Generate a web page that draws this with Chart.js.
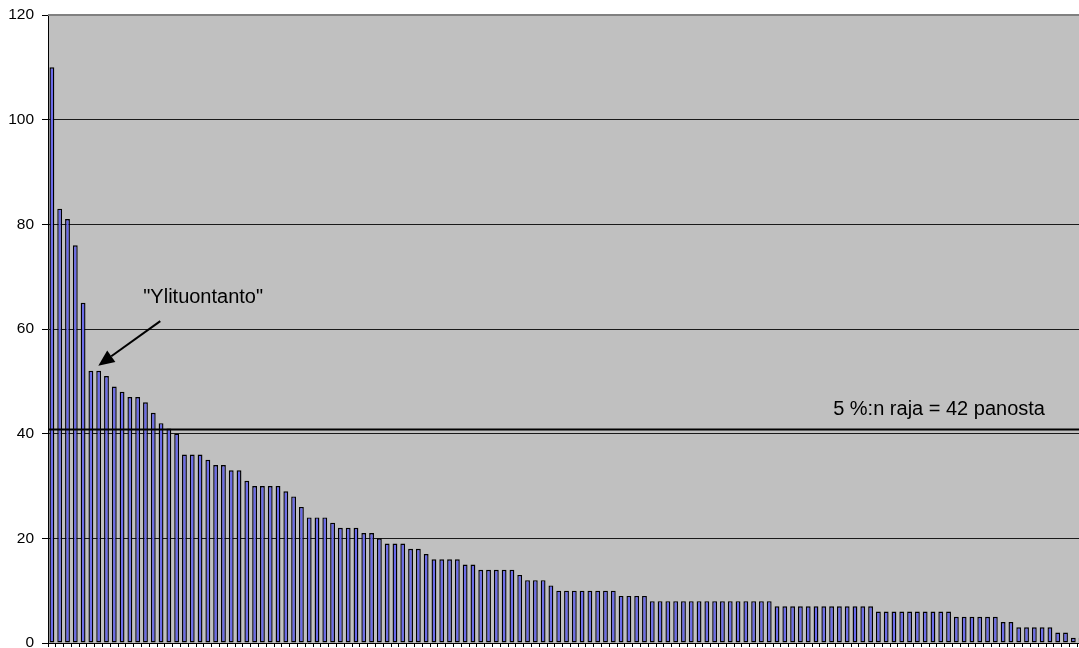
<!DOCTYPE html>
<html lang="fi">
<head>
  <meta charset="UTF-8" />
  <title>Ylituontanto</title>
  <script src="https://cdn.jsdelivr.net/npm/chart.js@4.4.0/dist/chart.umd.min.js"></script>
  <style>
    html, body { margin: 0; padding: 0; background: #fff; overflow: hidden; }
    .wrap { position: relative; width: 1085px; height: 648px; }
  </style>
</head>
<body>
  <div class="wrap"><canvas id="chart"></canvas></div>

  <script>
    // Panokset suuruusjärjestyksessä
    const values = [
      110, 83, 81, 76, 65, 52, 52, 51, 49, 48, 47, 47, 46, 44, 42, 41, 40, 36, 36, 36,
      35, 34, 34, 33, 33, 31, 30, 30, 30, 30, 29, 28, 26, 24, 24, 24, 23, 22, 22, 22,
      21, 21, 20, 19, 19, 19, 18, 18, 17, 16, 16, 16, 16, 15, 15, 14, 14, 14, 14, 14,
      13, 12, 12, 12, 11, 10, 10, 10, 10, 10, 10, 10, 10, 9, 9, 9, 9, 8, 8, 8,
      8, 8, 8, 8, 8, 8, 8, 8, 8, 8, 8, 8, 8, 7, 7, 7, 7, 7, 7, 7,
      7, 7, 7, 7, 7, 7, 6, 6, 6, 6, 6, 6, 6, 6, 6, 6, 5, 5, 5, 5,
      5, 5, 4, 4, 3, 3, 3, 3, 3, 2, 2, 1, 1
    ];
    const categories = values.map((v, i) => String(i + 1));
    const yTicks = [0, 20, 40, 60, 80, 100, 120];

    // 5 %:n raja ja merkinnät (kategoria-indeksi, arvo)
    const limitValue = 40.8;
    const limitLabel = '5 %:n raja = 42 panosta';
    const limitLabelAt = [100.2, 44.7];
    const noteLabel = '"Ylituontanto"';
    const noteLabelAt = [19.4, 66.0];
    const arrowFrom = [13.9, 61.5];
    const arrowTo = [5.95, 53.0];

    const FONT = "'Liberation Sans', Arial, sans-serif";

    const backdrop = {
      id: 'backdrop',
      beforeDraw(chart) {
        const { ctx, chartArea: a } = chart;
        ctx.save();
        ctx.fillStyle = '#c0c0c0';
        ctx.fillRect(a.left, a.top, a.right - a.left, a.bottom - a.top);
        ctx.restore();
      }
    };

    const notes = {
      id: 'notes',
      afterDatasetsDraw(chart) {
        const { ctx, chartArea: a, scales } = chart;
        const px = (p) => [scales.x.getPixelForValue(p[0]), scales.y.getPixelForValue(p[1])];
        ctx.save();

        // raja-viiva
        const ly = scales.y.getPixelForValue(limitValue);
        ctx.strokeStyle = '#000';
        ctx.lineWidth = 2;
        ctx.beginPath();
        ctx.moveTo(a.left, ly);
        ctx.lineTo(a.right, ly);
        ctx.stroke();

        ctx.fillStyle = '#000';
        ctx.font = '20px ' + FONT;
        ctx.textBaseline = 'middle';
        ctx.textAlign = 'left';
        const lp = px(limitLabelAt);
        ctx.fillText(limitLabel, lp[0], lp[1]);

        ctx.textAlign = 'center';
        const np = px(noteLabelAt);
        ctx.fillText(noteLabel, np[0], np[1]);

        // nuoli
        const [x1, y1] = px(arrowFrom);
        const [x2, y2] = px(arrowTo);
        const ang = Math.atan2(y2 - y1, x2 - x1);
        const head = 16, half = 7;
        const bx = x2 - head * Math.cos(ang), by = y2 - head * Math.sin(ang);
        ctx.lineWidth = 2;
        ctx.beginPath();
        ctx.moveTo(x1, y1);
        ctx.lineTo(bx, by);
        ctx.stroke();
        ctx.beginPath();
        ctx.moveTo(x2, y2);
        ctx.lineTo(bx + half * Math.sin(ang), by - half * Math.cos(ang));
        ctx.lineTo(bx - half * Math.sin(ang), by + half * Math.cos(ang));
        ctx.closePath();
        ctx.fill();

        // yläreuna
        ctx.strokeStyle = '#808080';
        ctx.lineWidth = 2;
        ctx.beginPath();
        ctx.moveTo(a.left, a.top);
        ctx.lineTo(a.right, a.top);
        ctx.stroke();
        ctx.restore();
      }
    };

    new Chart(document.getElementById('chart'), {
      type: 'bar',
      data: {
        labels: categories,
        datasets: [{
          data: values,
          backgroundColor: '#6a6aec',
          borderColor: '#000',
          borderWidth: 1.4,
          borderSkipped: false,
          categoryPercentage: 1,
          barPercentage: 0.62
        }]
      },
      options: {
        responsive: true,
        maintainAspectRatio: false,
        animation: false,
        devicePixelRatio: 1,
        layout: { padding: { top: 15, left: 0, right: 0, bottom: 0 } },
        plugins: { legend: { display: false }, tooltip: { enabled: false } },
        scales: {
          x: {
            grid: { drawOnChartArea: false, tickLength: 4, color: '#000' },
            border: { color: '#000', width: 1 },
            ticks: { display: false },
            afterFit(s) { s.height = 5; s.paddingLeft = 0; s.paddingRight = 0; }
          },
          y: {
            min: 0,
            max: 120,
            afterBuildTicks(s) { s.ticks = yTicks.map(v => ({ value: v })); },
            grid: {
              tickLength: 6,
              tickColor: '#000',
              color: (c) => (c.tick && (c.tick.value === 0 || c.tick.value === 120)) ? 'rgba(0,0,0,0)' : '#1a1a1a',
              lineWidth: 1
            },
            border: { color: '#000', width: 1 },
            ticks: { color: '#000', padding: 8, font: { family: FONT, size: 15.5 } },
            afterFit(s) { s.width = 48; s.paddingTop = 0; s.paddingBottom = 0; }
          }
        }
      },
      plugins: [backdrop, notes]
    });
  </script>
</body>
</html>
